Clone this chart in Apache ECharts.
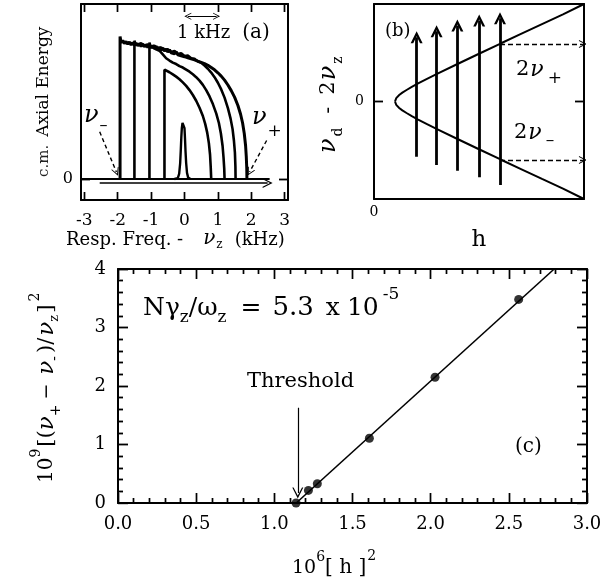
<!DOCTYPE html>
<html><head><meta charset="utf-8">
<script src="https://cdn.jsdelivr.net/npm/echarts@6/dist/echarts.min.js"></script>
<style>html,body{margin:0;padding:0;background:#fff}#c{width:615px;height:582px}</style>
</head><body><div id="c"></div>
<script>
// ---------- Panel (a): c.m. axial energy vs response frequency ----------
const aTicks = [-3, -2, -1, 0, 1, 2, 3];
const aBaseline = [[-3.1, 0], [2.55, 0]];
const aCurve1 = [[-1.93,0],[-1.93,0.815],[-1.9,0.78],[-1.85,0.792],[-1.8,0.774],[-1.75,0.786],[-1.7,0.771],[-1.65,0.783],[-1.6,0.766],[-1.55,0.779],[-1.5,0.764],[-1.45,0.777],[-1.4,0.761],[-1.35,0.773],[-1.3,0.758],[-1.25,0.772],[-1.2,0.756],[-1.15,0.768],[-1.1,0.752],[-1.05,0.766],[-1.0,0.749],[-0.95,0.763],[-0.9,0.745],[-0.85,0.758],[-0.8,0.741],[-0.75,0.753],[-0.7,0.736],[-0.65,0.749],[-0.6,0.731],[-0.55,0.743],[-0.5,0.726],[-0.45,0.738],[-0.4,0.721],[-0.35,0.732],[-0.3,0.715],[-0.25,0.727],[-0.2,0.71],[-0.15,0.721],[-0.1,0.704],[-0.05,0.715],[0,0.699],[0.05,0.709],[0.1,0.693],[0.15,0.703],[0.2,0.687],[0.25,0.696],[0.3,0.681],[0.35,0.689],[0.4,0.673],[0.45,0.681],[0.5,0.666],[0.55,0.673],[0.6,0.659],[0.7,0.65],[0.8,0.637],[0.9,0.624],[1.0,0.607],[1.1,0.588],[1.2,0.565],[1.3,0.537],[1.4,0.505],[1.5,0.468],[1.6,0.42],[1.68,0.37],[1.74,0.32],[1.79,0.26],[1.83,0.19],[1.85,0.13],[1.865,0.06],[1.87,0]];
const aCurve2 = [[-1.5,0],[-1.5,0.79],[-1.47,0.772],[-1.4,0.768],[-1.3,0.776],[-1.2,0.761],[-1.1,0.769],[-1.0,0.754],[-0.9,0.762],[-0.8,0.745],[-0.7,0.752],[-0.6,0.736],[-0.5,0.742],[-0.4,0.726],[-0.3,0.731],[-0.2,0.714],[-0.1,0.719],[0,0.703],[0.1,0.705],[0.2,0.69],[0.3,0.687],[0.4,0.672],[0.5,0.664],[0.6,0.648],[0.7,0.63],[0.8,0.608],[0.9,0.582],[1.0,0.55],[1.1,0.512],[1.2,0.465],[1.3,0.405],[1.38,0.345],[1.44,0.285],[1.48,0.22],[1.51,0.15],[1.525,0.07],[1.53,0]];
const aCurve3 = [[-1.05,0],[-1.05,0.78],[-1.02,0.76],[-0.95,0.752],[-0.85,0.741],[-0.75,0.733],[-0.65,0.712],[-0.55,0.69],[-0.45,0.677],[-0.35,0.665],[-0.25,0.657],[-0.15,0.645],[-0.05,0.637],[0.05,0.625],[0.15,0.613],[0.25,0.598],[0.35,0.582],[0.45,0.562],[0.55,0.538],[0.65,0.508],[0.75,0.472],[0.85,0.428],[0.95,0.375],[1.03,0.32],[1.09,0.26],[1.14,0.19],[1.17,0.12],[1.19,0.06],[1.2,0]];
const aCurve4 = [[-0.6,0],[-0.6,0.625],[-0.55,0.62],[-0.45,0.61],[-0.35,0.598],[-0.25,0.585],[-0.15,0.57],[-0.05,0.552],[0.05,0.532],[0.15,0.508],[0.25,0.48],[0.35,0.447],[0.45,0.407],[0.55,0.36],[0.62,0.315],[0.68,0.265],[0.73,0.205],[0.765,0.14],[0.785,0.07],[0.8,0]];
const aPeak = [[-0.3,0],[-0.2,0.005],[-0.16,0.03],[-0.13,0.09],[-0.11,0.17],[-0.095,0.24],[-0.08,0.29],[-0.06,0.32],[-0.035,0.33],[-0.015,0.32],[0,0.29],[0.015,0.23],[0.03,0.16],[0.05,0.09],[0.075,0.035],[0.11,0.008],[0.18,0]];
const aSweepArrow = [[-2.54, -0.023], [2.49, -0.023]];
const aKHzArrow = [[0.1, 0.93], [0.96, 0.93]];
const aNuMinusArrow = [[-2.54, 0.27], [-2.04, 0.04]];
const aNuPlusArrow = [[2.46, 0.22], [1.95, 0.04]];

// ---------- Panel (b): schematic nu_d - 2nu_z vs h ----------
const bUpperH = [0.1,0.102,0.106,0.112,0.12,0.135,0.155,0.18,0.21,0.25,0.3,0.4,0.5,0.6,0.7,0.8,0.9,1.0];
const bUpperY = [0,0.02,0.035,0.05,0.066,0.091,0.118,0.15,0.185,0.229,0.283,0.387,0.49,0.592,0.693,0.794,0.894,1.0];
const bArrowH = [0.203, 0.298, 0.397, 0.501, 0.6];
const bArrowTop = [0.66, 0.72, 0.78, 0.83, 0.855];
const bArrowBottom = [-0.566, -0.651, -0.71, -0.777, -0.856];
const bDashH = [0.6, 0.995];
const bDashY = [0.59, -0.6];

// ---------- Panel (c): threshold fit ----------
const cXTicks = [0, 0.5, 1.0, 1.5, 2.0, 2.5, 3.0];
const cYTicks = [0, 1, 2, 3, 4];
const cH2 = [1.139, 1.218, 1.275, 1.608, 2.028, 2.563];
const cSplit = [0.0, 0.215, 0.33, 1.106, 2.15, 3.48];
const cFitH = [1.14, 2.79];
const cFitY = [0, 4];
const cThresholdArrow = [[1.15, 1.63], [1.15, 0.17]];

const SERIF = '"DejaVu Serif", serif';
const K = '#000';
const chevron = 'path://M0,12 L6,0 L12,12 L10.6,12 L6,3.2 L1.4,12 Z';
const chevronBold = 'path://M0,11 L6,0 L12,11 L9.4,11 L6,4.6 L2.6,11 Z';

const ctx = document.createElement('canvas').getContext('2d');
function fontStr(s) { return (s.italic ? 'italic ' : '') + (s.weight || 'normal') + ' ' + s.size + 'px ' + SERIF; }
function seqText(x, y, segs, rot) {
  let cx = 0; const children = [];
  for (const s of segs) {
    cx += (s.gap || 0);
    const f = fontStr(s);
    ctx.font = f;
    children.push({ type: 'text', x: cx, y: s.dy || 0, style: { text: s.t, font: f, fill: s.color || K, textAlign: 'left', textVerticalAlign: 'middle' } });
    cx += ctx.measureText(s.t).width;
  }
  return { type: 'group', x: x, y: y, rotation: rot || 0, z: 100, children: children };
}

const chart = echarts.init(document.getElementById('c'), null, { renderer: 'canvas' });

const lineS = (data, xi, yi, w) => ({ type: 'line', data: data, xAxisIndex: xi, yAxisIndex: yi, showSymbol: false, symbol: 'none', lineStyle: { color: K, width: w }, animation: false, z: 3 });
const arrowS = (coords, xi, yi, opt) => ({
  type: 'lines', coordinateSystem: 'cartesian2d', xAxisIndex: xi, yAxisIndex: yi, animation: false, z: 4,
  symbol: opt.both ? [opt.sym || chevron, opt.sym || chevron] : ['none', opt.sym || chevron], symbolSize: opt.size || 10,
  lineStyle: { color: K, width: opt.width || 1.5, type: opt.dash || 'solid', curveness: opt.curve || 0, opacity: 1 },
  itemStyle: { color: K },
  data: coords.map(c => ({ coords: c }))
});

// Panel ranges and plot sizes (layout)
const aX = [-3.1, 3.1], aY = [-0.12, 1], bX = [0, 1], bY = [-1, 1], cX = [0, 3], cY = [0, 4];
const gA = { left: 81, top: 4, width: 207, height: 196 };
const gB = { left: 374, top: 4, width: 210, height: 195 };
const gC = { left: 118, top: 269, width: 469, height: 234 };

// Inward tick marks as short segments placed through the axes' scales.
// side: 0 bottom, 1 top, 2 left, 3 right; len in px converted to data units.
function tickCoords(xr, yr, g, vals, side, len) {
  const dy = len * (yr[1] - yr[0]) / g.height, dx = len * (xr[1] - xr[0]) / g.width;
  return vals.map(v => {
    if (side === 0) return [[v, yr[0]], [v, yr[0] + dy]];
    if (side === 1) return [[v, yr[1]], [v, yr[1] - dy]];
    if (side === 2) return [[xr[0], v], [xr[0] + dx, v]];
    return [[xr[1], v], [xr[1] - dx, v]];
  });
}
const minorVals = (ticks, n) => { const out = []; for (let i = 0; i < ticks.length - 1; i++) { const st = (ticks[i + 1] - ticks[i]) / n; for (let j = 1; j < n; j++) out.push(ticks[i] + st * j); } return out; };
const tickLines = (coords, xi, yi) => ({
  type: 'lines', coordinateSystem: 'cartesian2d', xAxisIndex: xi, yAxisIndex: yi, animation: false, z: 6, silent: true,
  symbol: 'none', lineStyle: { color: K, width: 1.4, opacity: 1 }, data: coords.map(c => ({ coords: c }))
});

const aTickC = [].concat(tickCoords(aX, aY, gA, aTicks, 0, 8), tickCoords(aX, aY, gA, aTicks, 1, 8),
  tickCoords(aX, aY, gA, [0], 2, 9), tickCoords(aX, aY, gA, [0], 3, 9));
const bTickC = [].concat(tickCoords(bX, bY, gB, [0], 2, 9), tickCoords(bX, bY, gB, [0], 3, 9));
const cXMinor = minorVals(cXTicks, 5), cYMinor = minorVals(cYTicks, 5);
const cTickC = [].concat(
  tickCoords(cX, cY, gC, cXTicks, 0, 10), tickCoords(cX, cY, gC, cXTicks, 1, 10),
  tickCoords(cX, cY, gC, cXMinor, 0, 5), tickCoords(cX, cY, gC, cXMinor, 1, 5),
  tickCoords(cX, cY, gC, cYTicks, 2, 10), tickCoords(cX, cY, gC, cYTicks, 3, 10),
  tickCoords(cX, cY, gC, cYMinor, 2, 5), tickCoords(cX, cY, gC, cYMinor, 3, 5));

const upper = bUpperH.map((h, i) => [h, bUpperY[i]]);
const lower = bUpperH.map((h, i) => [h, -bUpperY[i]]);
const vArrows = bArrowH.map((h, i) => [[h, bArrowBottom[i]], [h, bArrowTop[i]]]);
const hDash = bDashY.map(y => [[bDashH[0], y], [bDashH[1], y]]);

const lbl = (sz, extra) => Object.assign({ show: true, color: K, fontFamily: SERIF, fontSize: sz }, extra || {});
const axLine = () => ({ show: true, onZero: false, lineStyle: { color: K, width: 2 } });
const noSplit = { show: false };
const tk = (len, custom) => { const t = { show: true, inside: true, length: len, lineStyle: { color: K, width: 1.4 } }; if (custom) t.customValues = custom; return t; };
const mn = () => ({ show: true, splitNumber: 5, length: 5, lineStyle: { color: K, width: 1.4 } });

const option = {
  animation: false,
  backgroundColor: '#fff',
  grid: [Object.assign({ show: false }, gA), Object.assign({ show: false }, gB), Object.assign({ show: false }, gC)],
  xAxis: [
    { gridIndex: 0, type: 'value', min: aX[0], max: aX[1], axisLine: axLine(), splitLine: noSplit, axisTick: tk(8, aTicks),
      axisLabel: lbl(17, { customValues: aTicks, margin: 12 }) },
    { gridIndex: 0, type: 'value', position: 'top', min: aX[0], max: aX[1], axisLine: axLine(), splitLine: noSplit, axisTick: tk(8, aTicks), axisLabel: { show: false } },
    { gridIndex: 1, type: 'value', min: bX[0], max: bX[1], axisLine: axLine(), splitLine: noSplit, axisTick: { show: false },
      axisLabel: lbl(14, { customValues: [0], margin: 6 }),
      name: 'h', nameLocation: 'middle', nameGap: 30, nameTextStyle: { color: K, fontFamily: SERIF, fontSize: 23 } },
    { gridIndex: 1, type: 'value', position: 'top', min: bX[0], max: bX[1], axisLine: axLine(), splitLine: noSplit, axisTick: { show: false }, axisLabel: { show: false } },
    { gridIndex: 2, type: 'value', min: cX[0], max: cX[1], interval: 0.5, axisLine: axLine(), splitLine: noSplit, axisTick: tk(10), minorTick: mn(),
      axisLabel: lbl(18, { margin: 12, formatter: v => v.toFixed(1) }) },
    { gridIndex: 2, type: 'value', position: 'top', min: cX[0], max: cX[1], interval: 0.5, axisLine: axLine(), splitLine: noSplit, axisTick: tk(10), minorTick: mn(), axisLabel: { show: false } }
  ],
  yAxis: [
    { gridIndex: 0, type: 'value', min: aY[0], max: aY[1], axisLine: axLine(), splitLine: noSplit, axisTick: tk(9, [0]),
      axisLabel: lbl(16, { customValues: [0], margin: 8 }) },
    { gridIndex: 0, type: 'value', position: 'right', min: aY[0], max: aY[1], axisLine: axLine(), splitLine: noSplit, axisTick: tk(9, [0]), axisLabel: { show: false } },
    { gridIndex: 1, type: 'value', min: bY[0], max: bY[1], axisLine: axLine(), splitLine: noSplit, axisTick: tk(9, [0]),
      axisLabel: lbl(14, { customValues: [0], margin: 10 }) },
    { gridIndex: 1, type: 'value', position: 'right', min: bY[0], max: bY[1], axisLine: axLine(), splitLine: noSplit, axisTick: tk(9, [0]), axisLabel: { show: false } },
    { gridIndex: 2, type: 'value', min: cY[0], max: cY[1], interval: 1, axisLine: axLine(), splitLine: noSplit, axisTick: tk(10), minorTick: mn(),
      axisLabel: lbl(18, { margin: 12 }) },
    { gridIndex: 2, type: 'value', position: 'right', min: cY[0], max: cY[1], interval: 1, axisLine: axLine(), splitLine: noSplit, axisTick: tk(10), minorTick: mn(), axisLabel: { show: false } }
  ],
  series: [
    lineS(aBaseline, 0, 0, 2.2),
    lineS(aCurve1, 0, 0, 3),
    lineS(aCurve2, 0, 0, 2.6),
    lineS(aCurve3, 0, 0, 2.6),
    lineS(aCurve4, 0, 0, 2.6),
    lineS(aPeak, 0, 0, 2.4),
    arrowS([aSweepArrow], 0, 0, { width: 1.6, size: 10 }),
    arrowS([aKHzArrow], 0, 0, { width: 1.2, size: 7, both: true }),
    arrowS([aNuMinusArrow, aNuPlusArrow], 0, 0, { width: 1.4, size: 8, dash: [4, 3] }),
    tickLines(aTickC, 0, 0),
    lineS(upper, 2, 2, 2),
    lineS(lower, 2, 2, 2),
    arrowS(vArrows, 2, 2, { width: 2.8, size: 12, sym: chevronBold }),
    arrowS(hDash, 2, 2, { width: 1.3, size: 8, dash: [5, 3] }),
    tickLines(bTickC, 2, 2),
    lineS(cFitH.map((h, i) => [h, cFitY[i]]), 4, 4, 1.6),
    { type: 'scatter', xAxisIndex: 4, yAxisIndex: 4, data: cH2.map((h, i) => [h, cSplit[i]]), symbol: 'circle', symbolSize: 9, itemStyle: { color: K }, animation: false, z: 5 },
    arrowS([cThresholdArrow], 4, 4, { width: 1.2, size: 11 }),
    tickLines(cTickC, 4, 4)
  ],
  graphic: [
    // panel (a)
    seqText(177, 33, [{ t: '1 kHz', size: 18 }, { t: '(a)', size: 20, gap: 12 }]),
    seqText(44, 177, [{ t: 'c.m.', size: 15, color: '#222' }, { t: 'Axial Energy', size: 17, gap: 8 }], Math.PI / 2),
    seqText(66, 240, [{ t: 'Resp. Freq. -', size: 18 }, { t: 'ν', size: 20, italic: true, gap: 20, dy: -1 }, { t: 'z', size: 12, dy: 5, gap: 1 }, { t: '(kHz)', size: 18, gap: 12 }]),
    seqText(84, 116, [{ t: 'ν', size: 24, italic: true }, { t: '–', size: 16, dy: 10, gap: 1 }]),
    seqText(252, 118, [{ t: 'ν', size: 24, italic: true }, { t: '+', size: 17, dy: 14, gap: 1 }]),
    // panel (b)
    seqText(385, 31, [{ t: '(b)', size: 18 }]),
    seqText(516, 70, [{ t: '2', size: 21 }, { t: 'ν', size: 22, italic: true, gap: 1 }, { t: '+', size: 17, dy: 9, gap: 4 }]),
    seqText(514, 133, [{ t: '2', size: 21 }, { t: 'ν', size: 22, italic: true, gap: 1 }, { t: '–', size: 17, dy: 8, gap: 4 }]),
    seqText(329, 153, [{ t: 'ν', size: 24, italic: true }, { t: 'd', size: 14, dy: 9, gap: 2 }, { t: '-', size: 20, gap: 14 }, { t: '2', size: 21, gap: 12 }, { t: 'ν', size: 24, italic: true, gap: 1 }, { t: 'z', size: 14, dy: 9, gap: 2 }], Math.PI / 2),
    // panel (c)
    seqText(143, 308, [{ t: 'Nγ', size: 25 }, { t: 'z', size: 17, dy: 10 }, { t: '/ω', size: 25 }, { t: 'z', size: 17, dy: 10 }, { t: '=', size: 25, gap: 14 }, { t: '5.3', size: 26, gap: 11 }, { t: 'x', size: 25, gap: 12 }, { t: '10', size: 25, gap: 7 }, { t: '-5', size: 17, dy: -13, gap: 4 }]),
    seqText(247, 382, [{ t: 'Threshold', size: 21 }]),
    seqText(515, 447, [{ t: '(c)', size: 20 }]),
    seqText(47, 483, [{ t: '10', size: 20 }, { t: '9', size: 14, dy: -11 }, { t: '[(', size: 21, gap: 2 }, { t: 'ν', size: 23, italic: true }, { t: '+', size: 14, dy: 9 }, { t: '−', size: 19, gap: 5 }, { t: 'ν', size: 23, italic: true, gap: 9 }, { t: '-', size: 14, dy: 8 }, { t: ')/', size: 21, gap: 3 }, { t: 'ν', size: 23, italic: true, gap: 2 }, { t: 'z', size: 13, dy: 8 }, { t: ']', size: 21, gap: 2 }, { t: '2', size: 14, dy: -12, gap: 3 }], Math.PI / 2),
    seqText(292, 568, [{ t: '10', size: 19 }, { t: '6', size: 14, dy: -11 }, { t: '[ h ]', size: 20 }, { t: '2', size: 14, dy: -12, gap: 1 }])
  ]
};
chart.setOption(option);
</script>
</body></html>
